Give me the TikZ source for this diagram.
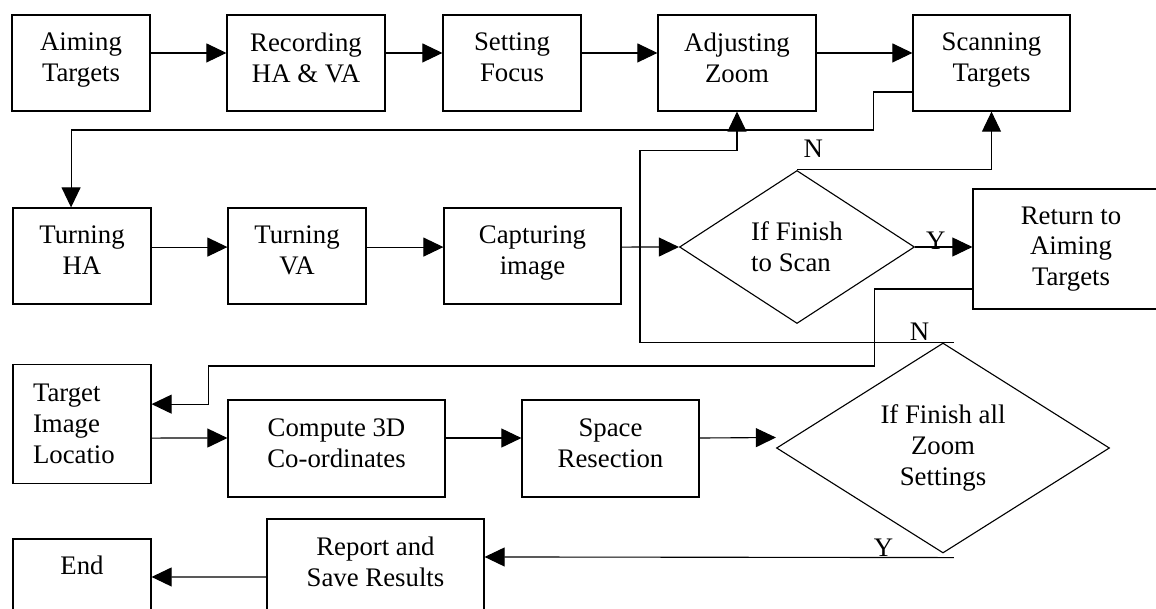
\documentclass[tikz,border=0pt]{standalone}
\usepackage{fontspec}
\setmainfont{Liberation Serif}
\usetikzlibrary{arrows.meta, shapes.geometric}
\newcommand{\pxu}{0.448pt}

\begin{document}
\begin{tikzpicture}[x=0.448pt, y=-0.448pt, >={Triangle[length=9pt,width=8.5pt]}, line width=0.5pt,
  font=\fontsize{12}{13.8}\selectfont,
  box/.style 2 args={draw, align=center, text depth=5pt, minimum width=#1*\pxu, minimum height=#2*\pxu},
  decision/.style 2 args={draw, diamond, inner sep=0pt, aspect=1.5, minimum width=#1*\pxu, minimum height=#2*\pxu},
  yn/.style={inner sep=0pt}]
\useasboundingbox (0,0) rectangle (1156,609);

\node[box={138}{96}] (A) at (81,63) {Aiming\\Targets};
\node[box={158}{96}] (B) at (306,63) {Recording\\HA \& VA};
\node[box={138}{96}] (C) at (512,63) {Setting\\Focus};
\node[box={158}{96}] (D) at (737,63) {Adjusting\\Zoom};
\node[box={157}{96}] (E) at (991.5,63) {Scanning\\Targets};
\node[box={138}{96}] (F) at (82,256) {Turning\\HA};
\node[box={138}{96}] (G) at (297,256) {Turning\\VA};
\node[box={177}{96}] (H) at (532.5,256) {Capturing\\image};
\node[decision={235}{153}, align=left] (I) at (797,247) {If Finish\\to Scan};
\node[box={196}{120}, text depth=2.6pt] (J) at (1071,249) {Return to\\Aiming\\Targets};
\node[box={138}{119}, text depth={}, text width=43.9pt, align=left] (K) at (82,424) {Target\\Image\\Locatio};
\node[box={217}{97}] (L) at (336.5,448.5) {Compute 3D\\Co-ordinates};
\node[box={177}{97}] (M) at (610.5,448.5) {Space\\Resection};
\node[decision={333}{210}, align=center] (N) at (943,448) {If Finish all\\Zoom\\Settings};
\node[box={138}{96}, text depth=19.8pt] (O) at (82,587) {End};
\node[box={217}{96}] (P) at (375.5,567) {Report and\\Save Results};

\draw[->] ([yshift=4.5pt]A.east) -- ([yshift=4.5pt]B.west);
\draw[->] ([yshift=4.5pt]B.east) -- ([yshift=4.5pt]C.west);
\draw[->] ([yshift=4.5pt]C.east) -- ([yshift=4.5pt]D.west);
\draw[->] ([yshift=4.5pt]D.east) -- ([yshift=4.5pt]E.west);
\draw[->] ([yshift=-13pt]E.west) -- ++(-39,0) -- ++(0,38) -| ([xshift=-4.9pt]F.north);
\draw[->] ([yshift=4pt]F.east) -- ([yshift=4pt]G.west);
\draw[->] ([yshift=4pt]G.east) -- ([yshift=4pt]H.west);
\draw[->] ([yshift=4pt]H.east) -- (I.west);
\draw[->] (I.east) -- node[yn, pos=0.36, above, yshift=-1.5pt] {Y} (I.east -| J.west);
\draw[->] (I.north) node[yn, anchor=south west, xshift=2.7pt, yshift=5.4pt] {N} -| (E.south);
\draw[->] ([xshift=4.9pt]N.north) node[yn, anchor=south east, xshift=-10.8pt, yshift=0.5pt] {N} -- ++(-314,0) -- ++(0,-192) -| (D.south);
\draw[->] ([yshift=-17.9pt]J.west) -- ++(-98,0) |- ++(-666,77) |- ([yshift=8.9pt]K.east);
\draw[->] ([yshift=-6.3pt]K.east) -- ([yshift=4.7pt]L.west);
\draw[->] ([yshift=4.7pt]L.east) -- ([yshift=4.7pt]M.west);
\draw[->] ([yshift=4.7pt]M.east) -- ([yshift=4.7pt]N.west);
\draw[->] ([xshift=4.9pt, yshift=-1.8pt]N.south) -- node[yn, pos=0.15, above] {Y} ([yshift=4.5pt]P.east);
\draw[->] ([yshift=-4.5pt]P.west) -- ([yshift=4.5pt]O.east);
\end{tikzpicture}
\end{document}
